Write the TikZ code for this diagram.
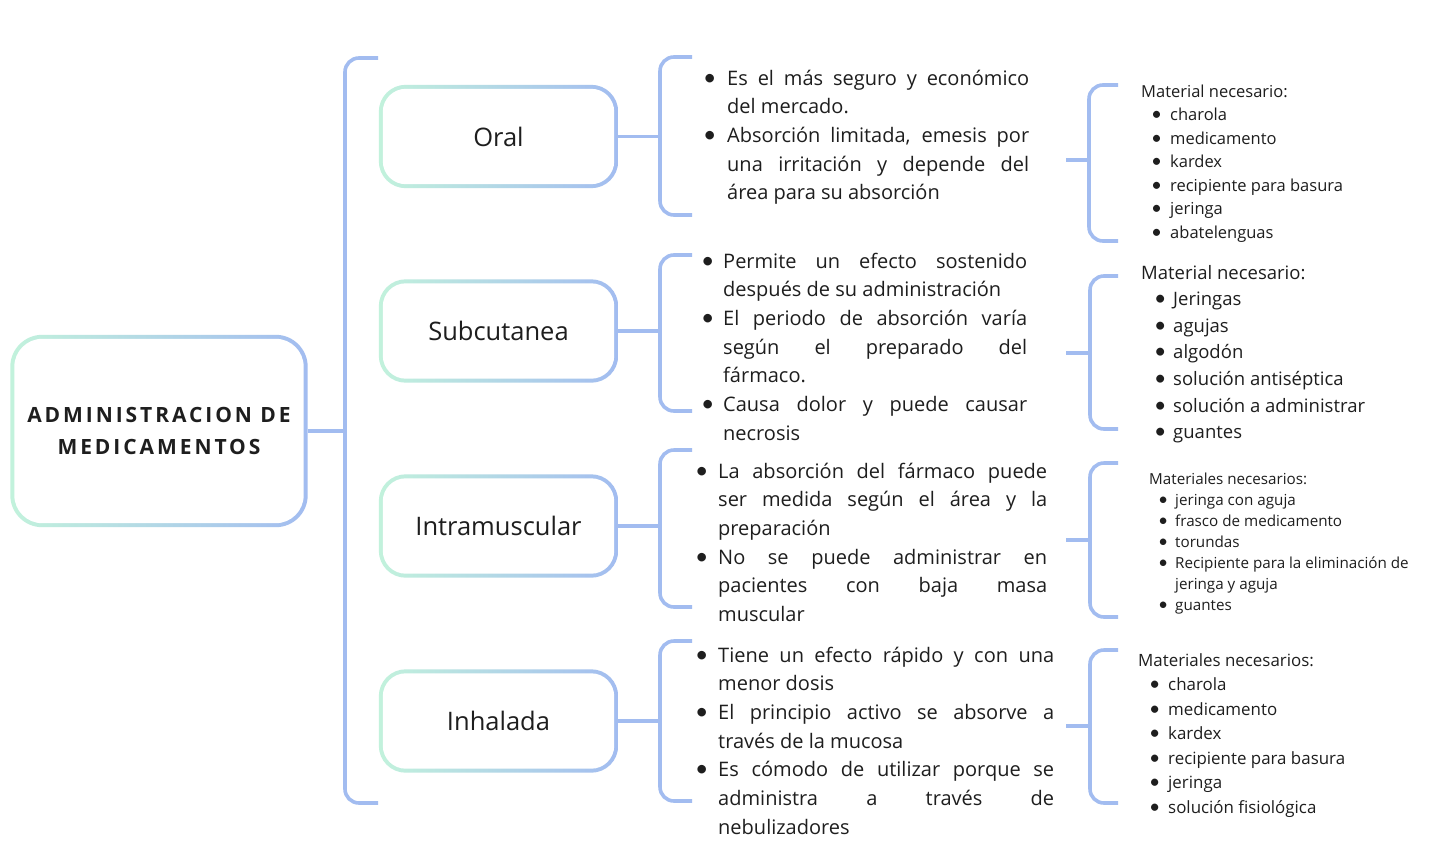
\documentclass[tikz,border=0pt]{standalone}
\usepackage{fontspec}
\setmainfont{Open Sans}
\newfontfamily\bulf{Lato}
\usetikzlibrary{backgrounds}
\definecolor{lb}{HTML}{A2BCF0}
\definecolor{lg}{HTML}{C2F2DC}
\definecolor{tx}{HTML}{1E1E1E}
\newlength\ind \newlength\tw \newlength\mpre \newlength\mind
\newcommand\bu{{\bulf\addfontfeatures{Scale=1.15}•}}
\newcommand\itJ[1]{\makebox[\ind][l]{\bu}\makebox[\tw][s]{#1}}
\newcommand\itL[1]{\makebox[\ind][l]{\bu}#1}
\newcommand\coJ[1]{\hspace*{\ind}\makebox[\tw][s]{#1}}
\newcommand\coL[1]{\hspace*{\ind}#1}
\newcommand\mat[1]{\hspace*{\mpre}\makebox[\mind][l]{\bu}#1}
\newcommand\mco[1]{\hspace*{\mpre}\hspace*{\mind}#1}
\newcommand\gbox[3]{%
  \shade[left color=lg,right color=lb,rounded corners=#2] (#1.south west) rectangle (#1.north east);
  \fill[white,rounded corners=#3] ([shift={(4pt,4pt)}]#1.south west) rectangle ([shift={(-4pt,-4pt)}]#1.north east);}
\tikzset{
  ln/.style={draw=lb,line width=3.6pt},
  br/.style={draw=lb,line width=3.6pt,rounded corners=14pt},
  rbox/.style={inner sep=0pt,minimum width=239pt,minimum height=103pt,text=tx,font=\fontsize{25.5}{28}\selectfont},
  mainbox/.style={inner sep=0pt,minimum width=297pt,minimum height=192pt,text=tx,align=center,font=\fontsize{21}{32}\selectfont\bfseries\addfontfeatures{LetterSpace=14}},
  desc/.style={anchor=base west,inner sep=0pt,text=tx,font=\fontsize{20}{28.7}\selectfont},
}
\begin{document}
\begin{tikzpicture}[x=1pt,y=-1pt]
\useasboundingbox (0,0) rectangle (1431,854);

% main node
\node[mainbox] (main) at (159,431) {ADMINISTRACION DE\\MEDICAMENTOS};
% child nodes
\node[rbox] (oral) at (498.5,136.5) {Oral};
\node[rbox] (sub) at (498.5,331) {Subcutanea};
\node[rbox] (intra) at (498.5,526) {Intramuscular};
\node[rbox] (inh) at (498.5,721) {Inhalada};

\begin{pgfonlayer}{background}
\fill[white] (0,0) rectangle (1431,854);
\gbox{main}{32pt}{28pt}
\gbox{oral}{27pt}{23pt}
\gbox{sub}{27pt}{23pt}
\gbox{intra}{27pt}{23pt}
\gbox{inh}{27pt}{23pt}
\end{pgfonlayer}

% main bracket
\coordinate (mbr) at (345,431);
\draw[br] (378,58) -- (345,58) -- (345,803) -- (378,803);
\draw[ln] (main.east) -- (mbr);

% second-level brackets
\coordinate (obr) at (660,136.5);
\coordinate (sbr) at (660,331);
\coordinate (ibr) at (660,526);
\coordinate (hbr) at (660,721);
\draw[br] (692,57) -- (660,57) -- (660,215) -- (692,215);
\draw[br] (692,255) -- (660,255) -- (660,411) -- (692,411);
\draw[br] (692,450) -- (660,450) -- (660,607) -- (692,607);
\draw[br] (692,641) -- (660,641) -- (660,801) -- (692,801);
\draw[ln] (oral.east) -- (obr);
\draw[ln] (sub.east) -- (sbr);
\draw[ln] (intra.east) -- (ibr);
\draw[ln] (inh.east) -- (hbr);

% descriptions
\node[desc] (otx) at (703,85) {\setlength\ind{24pt}\setlength\tw{302pt}\parbox[t]{326pt}{%
\itJ{Es el más seguro y económico}\\
\coL{del mercado.}\\
\itJ{Absorción limitada, emesis por}\\
\coJ{una irritación y depende del}\\
\coL{área para su absorción}}};

\node[desc] (stx) at (701,268) {\setlength\ind{22pt}\setlength\tw{304pt}\parbox[t]{326pt}{%
\itJ{Permite un efecto sostenido}\\
\coL{después de su administración}\\
\itJ{El periodo de absorción varía}\\
\coJ{según el preparado del}\\
\coL{fármaco.}\\
\itJ{Causa dolor y puede causar}\\
\coL{necrosis}}};

\node[desc] (itx) at (695,478) {\setlength\ind{23pt}\setlength\tw{329pt}\parbox[t]{352pt}{%
\itJ{La absorción del fármaco puede}\\
\coJ{ser medida según el área y la}\\
\coL{preparación}\\
\itJ{No se puede administrar en}\\
\coJ{pacientes con baja masa}\\
\coL{muscular}}};

\node[desc] (htx) at (695,662) {\setlength\ind{23pt}\setlength\tw{336pt}\parbox[t]{359pt}{%
\itJ{Tiene un efecto rápido y con una}\\
\coL{menor dosis}\\
\itJ{El principio activo se absorve a}\\
\coL{través de la mucosa}\\
\itJ{Es cómodo de utilizar porque se}\\
\coJ{administra a través de}\\
\coL{nebulizadores}}};

% third-level connectors and brackets
\coordinate (oj) at (1066,160);
\coordinate (ob) at (1089,160);
\coordinate (sj) at (1066,353);
\coordinate (sb) at (1090,353);
\coordinate (ij) at (1066,540);
\coordinate (ib) at (1090,540);
\coordinate (hj) at (1066,726);
\coordinate (hb) at (1090,726);
\draw[ln] (oj) -- (ob);
\draw[ln] (sj) -- (sb);
\draw[ln] (ij) -- (ib);
\draw[ln] (hj) -- (hb);
\draw[br] (1118,85) -- (1089,85) -- (1089,241) -- (1118,241);
\draw[br] (1118,276) -- (1090,276) -- (1090,429) -- (1118,429);
\draw[br] (1118,463) -- (1090,463) -- (1090,617) -- (1118,617);
\draw[br] (1118,650) -- (1090,650) -- (1090,803) -- (1118,803);

% materials
\node[desc,font=\fontsize{16.5}{23.5}\selectfont] (om) at (1141,97) {\setlength\mpre{10pt}\setlength\mind{19pt}\parbox[t]{260pt}{%
Material necesario:\\
\mat{charola}\\
\mat{medicamento}\\
\mat{kardex}\\
\mat{recipiente para basura}\\
\mat{jeringa}\\
\mat{abatelenguas}}};

\node[desc,font=\fontsize{18.5}{26.6}\selectfont] (sm) at (1141,279) {\setlength\mpre{13pt}\setlength\mind{19pt}\parbox[t]{280pt}{%
Material necesario:\\
\mat{Jeringas}\\
\mat{agujas}\\
\mat{algodón}\\
\mat{solución antiséptica}\\
\mat{solución a administrar}\\
\mat{guantes}}};

\node[desc,font=\fontsize{15.2}{21}\selectfont] (im) at (1149,484) {\setlength\mpre{9pt}\setlength\mind{17pt}\parbox[t]{280pt}{%
Materiales necesarios:\\
\mat{jeringa con aguja}\\
\mat{frasco de medicamento}\\
\mat{torundas}\\
\mat{Recipiente para la eliminación de}\\
\mco{jeringa y aguja}\\
\mat{guantes}}};

\node[desc,font=\fontsize{16.9}{24.5}\selectfont] (hm) at (1138,666) {\setlength\mpre{11pt}\setlength\mind{19pt}\parbox[t]{280pt}{%
Materiales necesarios:\\
\mat{charola}\\
\mat{medicamento}\\
\mat{kardex}\\
\mat{recipiente para basura}\\
\mat{jeringa}\\
\mat{solución fisiológica}}};
\end{tikzpicture}
\end{document}
